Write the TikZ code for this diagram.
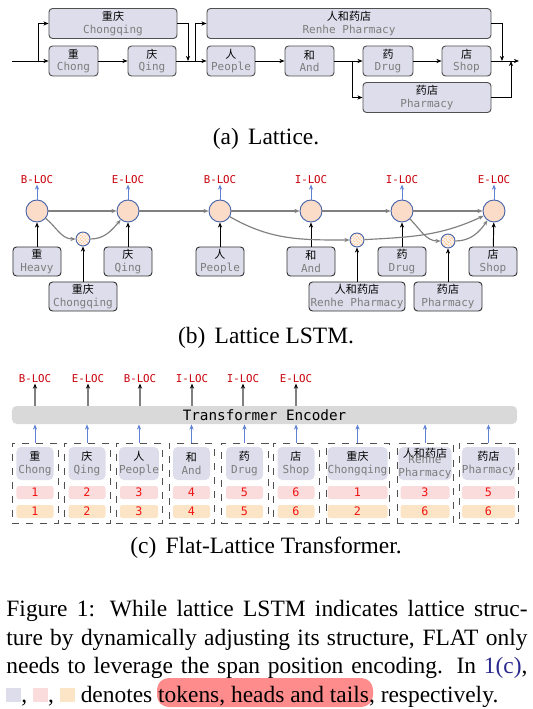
\documentclass[tikz,border=0pt]{standalone}
\usepackage{fontspec}
\setmainfont{Liberation Serif}
\setmonofont{DejaVu Sans Mono}
\newfontfamily\cjk{Noto Sans CJK SC}
\usepackage{tikz}
\usetikzlibrary{arrows.meta,patterns.meta,calc}
\definecolor{myboxfill}{RGB}{221,221,235}
\definecolor{myborder}{RGB}{80,80,80}
\definecolor{myengray}{RGB}{125,125,125}
\definecolor{mypeach}{RGB}{251,220,200}
\definecolor{mycellblue}{RGB}{70,100,170}
\definecolor{myarrowblue}{RGB}{95,130,210}
\definecolor{mytagred}{RGB}{200,0,10}
\definecolor{mynumred}{RGB}{240,20,20}
\definecolor{myheadpink}{RGB}{250,220,220}
\definecolor{mytailorange}{RGB}{251,229,198}
\definecolor{myencgray}{RGB}{217,217,217}
\definecolor{mylinkblue}{RGB}{40,40,140}
\definecolor{myhilite}{RGB}{255,140,140}
\newcommand{\wordfont}{\fontsize{4.7}{5.3}\selectfont\ttfamily}
\newcommand{\zh}[1]{{\cjk #1}}
\newcommand{\en}[1]{{\color{myengray}#1}}
\tikzstyle{wordbox}=[draw=myborder,fill=myboxfill,rounded corners=1.5pt,align=center,inner sep=0pt,minimum height=0.45cm,font=\wordfont]
\tikzstyle{tag}=[text=mytagred,inner sep=0pt,font=\fontsize{4.6}{5}\selectfont\ttfamily]
\tikzstyle{cell}=[draw=mycellblue,fill=mypeach,circle,minimum size=0.33cm,inner sep=0pt]
\tikzstyle{wordcell}=[draw=mycellblue,circle,minimum size=0.21cm,inner sep=0pt,preaction={fill=mypeach!40},pattern={Lines[angle=45,distance=0.9pt,line width=0.35pt]},pattern color=orange!55]
\tikzstyle{tagarrow}=[->,myarrowblue,line width=0.4pt]
\tikzstyle{flow}=[->,gray,line width=0.5pt]
\tikzstyle{group}=[draw=myborder,dashed,minimum height=1.2cm,inner sep=0pt]
\tikzstyle{token}=[fill=myboxfill,rounded corners=2pt,align=center,inner sep=0pt,minimum height=0.495cm,font=\wordfont]
\tikzstyle{head}=[fill=myheadpink,rounded corners=1pt,text=mynumred,inner sep=0pt,minimum height=0.195cm,font=\fontsize{5}{5}\selectfont\ttfamily]
\tikzstyle{tail}=[fill=mytailorange,rounded corners=1pt,text=mynumred,inner sep=0pt,minimum height=0.195cm,font=\fontsize{5}{5}\selectfont\ttfamily]
\tikzstyle{subcap}=[inner sep=0pt,font=\fontsize{10}{12}\selectfont]
\tikzstyle{outarrow}=[->,gray,line width=0.6pt,arrows={-Stealth[length=2.2pt,width=1.8pt,black]}]

\begin{document}
\begin{tikzpicture}[x=0.015cm,y=-0.015cm,line width=0.4pt,>={Stealth[length=2.2pt,width=1.8pt]}]
\useasboundingbox (0,0) rectangle (532,709);
% (a) lattice
\draw (113,23.5) node [wordbox, minimum width=1.92cm] (aChongqing) {\zh{重庆}\\\en{Chongqing}};
\draw (73.5,61) node [wordbox, minimum width=0.735cm] (aChong) {\zh{重}\\\en{Chong}};
\draw (152,61) node [wordbox, minimum width=0.72cm] (aQing) {\zh{庆}\\\en{Qing}};
\draw (231,61) node [wordbox, minimum width=0.72cm] (aPeople) {\zh{人}\\\en{People}};
\draw (349,23.5) node [wordbox, minimum width=4.26cm] (aRenhe) {\zh{人和药店}\\\en{Renhe Pharmacy}};
\draw (309.5,61) node [wordbox, minimum width=0.735cm] (aAnd) {\zh{和}\\\en{And}};
\draw (388,61) node [wordbox, minimum width=0.75cm] (aDrug) {\zh{药}\\\en{Drug}};
\draw (466.5,61) node [wordbox, minimum width=0.735cm] (aShop) {\zh{店}\\\en{Shop}};
\draw (427,97.5) node [wordbox, minimum width=1.92cm] (aPharmacy) {\zh{药店}\\\en{Pharmacy}};
\coordinate (aStart) at (12,61);
\coordinate (aEnd) at (519,61);
\coordinate (ab1) at (38,61);
\coordinate (ab2) at (188,61);
\coordinate (ab3) at (195,61);
\coordinate (ab4) at (352,61);
\coordinate (ab5) at (502,61);
\coordinate (ab6) at (511,61);
\draw[->] (aStart) -- (aChong);
\draw[->] (ab1) |- (aChongqing);
\draw[->] (aChong) -- (aQing);
\draw[->] (aQing) -- (aPeople);
\draw[->] (aChongqing) -| (ab2);
\draw[->] (ab3) |- (aRenhe);
\draw[->] (aPeople) -- (aAnd);
\draw[->] (aAnd) -- (aDrug);
\draw[->] (ab4) |- (aPharmacy);
\draw[->] (aDrug) -- (aShop);
\draw[->] (aShop) -- (aEnd);
\draw[->] (aRenhe) -| (ab5);
\draw[->] (aPharmacy) -| (ab6);
\node [subcap] (capA) at (266,139) {(a)\hspace{4pt}Lattice.};

% (b) lattice lstm
\draw (37,180) node [tag] (bt1) {B-LOC};
\draw (128,180) node [tag] (bt2) {E-LOC};
\draw (220,180) node [tag] (bt3) {B-LOC};
\draw (311,180) node [tag] (bt4) {I-LOC};
\draw (402,180) node [tag] (bt5) {I-LOC};
\draw (494,180) node [tag] (bt6) {E-LOC};
\draw (37,211) node [cell] (bh1) {};
\draw (128,211) node [cell] (bh2) {};
\draw (220,211) node [cell] (bh3) {};
\draw (311,211) node [cell] (bh4) {};
\draw (402,211) node [cell] (bh5) {};
\draw (494,211) node [cell] (bh6) {};
\draw (83,239) node [wordcell] (bc1) {};
\draw (357,240) node [wordcell] (bc2) {};
\draw (448,241) node [wordcell] (bc3) {};
\draw (37,261.5) node [wordbox, draw=black!80, minimum width=0.72cm, minimum height=0.435cm] (bHeavy) {\zh{重}\\\en{Heavy}};
\draw (128,261.5) node [wordbox, draw=black!80, minimum width=0.72cm, minimum height=0.435cm] (bQing) {\zh{庆}\\\en{Qing}};
\draw (220,261.5) node [wordbox, draw=black!80, minimum width=0.72cm, minimum height=0.435cm] (bPeople) {\zh{人}\\\en{People}};
\draw (311,261.5) node [wordbox, draw=black!80, minimum width=0.72cm, minimum height=0.435cm] (bAnd) {\zh{和}\\\en{And}};
\draw (402,261.5) node [wordbox, draw=black!80, minimum width=0.72cm, minimum height=0.435cm] (bDrug) {\zh{药}\\\en{Drug}};
\draw (493,261.5) node [wordbox, draw=black!80, minimum width=0.72cm, minimum height=0.435cm] (bShop) {\zh{店}\\\en{Shop}};
\draw (83,296.5) node [wordbox, draw=black!80, minimum width=1.02cm, minimum height=0.435cm] (bChongqing) {\zh{重庆}\\\en{Chongqing}};
\draw (357,296.5) node [wordbox, draw=black!80, minimum width=1.44cm, minimum height=0.435cm] (bRenhe) {\zh{人和药店}\\\en{Renhe Pharmacy}};
\draw (448,296.5) node [wordbox, draw=black!80, minimum width=1.02cm, minimum height=0.435cm] (bPharmacy) {\zh{药店}\\\en{Pharmacy}};
\draw[tagarrow] (bh1) -- (bt1);
\draw[tagarrow] (bh2) -- (bt2);
\draw[tagarrow] (bh3) -- (bt3);
\draw[tagarrow] (bh4) -- (bt4);
\draw[tagarrow] (bh5) -- (bt5);
\draw[tagarrow] (bh6) -- (bt6);
\draw[->] (bHeavy) -- (bh1);
\draw[->] (bQing) -- (bh2);
\draw[->] (bPeople) -- (bh3);
\draw[->] (bAnd) -- (bh4);
\draw[->] (bDrug) -- (bh5);
\draw[->] (bShop) -- (bh6);
\draw[->] (bChongqing) -- (bc1);
\draw[->] (bRenhe) -- (bc2);
\draw[->] (bPharmacy) -- (bc3);
\draw[flow] (bh1) -- (bh2);
\draw[flow] (bh2) -- (bh3);
\draw[flow] (bh3) -- (bh4);
\draw[flow] (bh4) -- (bh5);
\draw[flow] (bh5) -- (bh6);
\draw[flow] (bh1) to[out=-40,in=180] (bc1);
\draw[flow] (bc1) to[out=0,in=-130] (bh2);
\draw[flow] (bh3) to[out=-30,in=180] (bc2);
\draw[flow] (bc2) to[out=3,in=-155] (bh6);
\draw[flow] (bh5) to[out=-45,in=180] (bc3);
\draw[flow] (bc3) to[out=0,in=-125] (bh6);
\node [subcap] (capB) at (266,338) {(b)\hspace{4pt}Lattice LSTM.};

% (c) flat-lattice transformer
\draw (35,379) node [tag] (ct1) {B-LOC};
\draw (88,379) node [tag] (ct2) {E-LOC};
\draw (140,379) node [tag] (ct3) {B-LOC};
\draw (192,379) node [tag] (ct4) {I-LOC};
\draw (243,379) node [tag] (ct5) {I-LOC};
\draw (296,379) node [tag] (ct6) {E-LOC};
\draw (264.5,415) node [fill=myencgray, rounded corners=2pt, minimum width=7.575cm, minimum height=0.27cm, inner sep=0pt, font=\fontsize{6.1}{6.1}\selectfont\ttfamily] (enc) {Transformer Encoder};
\draw[outarrow] (enc.north -| ct1) -- (ct1);
\draw[outarrow] (enc.north -| ct2) -- (ct2);
\draw[outarrow] (enc.north -| ct3) -- (ct3);
\draw[outarrow] (enc.north -| ct4) -- (ct4);
\draw[outarrow] (enc.north -| ct5) -- (ct5);
\draw[outarrow] (enc.north -| ct6) -- (ct6);
\draw (35,483) node [group, minimum width=0.69cm] (g1) {};
\draw (87,483) node [group, minimum width=0.69cm] (g2) {};
\draw (139,483) node [group, minimum width=0.69cm] (g3) {};
\draw (191.5,483) node [group, minimum width=0.675cm] (g4) {};
\draw (244.5,483) node [group, minimum width=0.705cm] (g5) {};
\draw (296,483) node [group, minimum width=0.69cm] (g6) {};
\draw (357.5,483) node [group, minimum width=0.945cm] (g7) {};
\draw (425,483) node [group, minimum width=0.84cm] (g8) {};
\draw (488.5,483) node [group, minimum width=0.885cm] (g9) {};
\draw (35,463.5) node [token, minimum width=0.555cm] (k1) {\zh{重}\\\en{Chong}};
\draw (87,463.5) node [token, minimum width=0.555cm] (k2) {\zh{庆}\\\en{Qing}};
\draw (139,463.5) node [token, minimum width=0.57cm] (k3) {\zh{人}\\\en{People}};
\draw (191.5,463.5) node [token, minimum width=0.555cm] (k4) {\zh{和}\\\en{And}};
\draw (244.5,463.5) node [token, minimum width=0.555cm] (k5) {\zh{药}\\\en{Drug}};
\draw (296,463.5) node [token, minimum width=0.555cm] (k6) {\zh{店}\\\en{Shop}};
\draw (357.5,463.5) node [token, minimum width=0.9cm] (k7) {\zh{重庆}\\\en{Chongqing}};
\draw (425,463.5) node [token, minimum width=0.735cm] (k8) {\zh{人和药店}\\[-2.6pt]\en{Renhe}\\\en{Pharmacy}};
\draw (488.5,463.5) node [token, minimum width=0.795cm] (k9) {\zh{药店}\\\en{Pharmacy}};
\draw (35,492.5) node [head, minimum width=0.555cm] (hd1) {1};
\draw (87,492.5) node [head, minimum width=0.555cm] (hd2) {2};
\draw (139,492.5) node [head, minimum width=0.57cm] (hd3) {3};
\draw (191.5,492.5) node [head, minimum width=0.555cm] (hd4) {4};
\draw (244.5,492.5) node [head, minimum width=0.555cm] (hd5) {5};
\draw (296,492.5) node [head, minimum width=0.555cm] (hd6) {6};
\draw (357.5,492.5) node [head, minimum width=0.9cm] (hd7) {1};
\draw (425,492.5) node [head, minimum width=0.735cm] (hd8) {3};
\draw (488.5,492.5) node [head, minimum width=0.795cm] (hd9) {5};
\draw (35,511.5) node [tail, minimum width=0.555cm] (tl1) {1};
\draw (87,511.5) node [tail, minimum width=0.555cm] (tl2) {2};
\draw (139,511.5) node [tail, minimum width=0.57cm] (tl3) {3};
\draw (191.5,511.5) node [tail, minimum width=0.555cm] (tl4) {4};
\draw (244.5,511.5) node [tail, minimum width=0.555cm] (tl5) {5};
\draw (296,511.5) node [tail, minimum width=0.555cm] (tl6) {6};
\draw (357.5,511.5) node [tail, minimum width=0.9cm] (tl7) {2};
\draw (425,511.5) node [tail, minimum width=0.735cm] (tl8) {6};
\draw (488.5,511.5) node [tail, minimum width=0.795cm] (tl9) {6};
\draw[tagarrow] (g1) -- (g1 |- enc.south);
\draw[tagarrow] (g2) -- (g2 |- enc.south);
\draw[tagarrow] (g3) -- (g3 |- enc.south);
\draw[tagarrow] (g4) -- (g4 |- enc.south);
\draw[tagarrow] (g5) -- (g5 |- enc.south);
\draw[tagarrow] (g6) -- (g6 |- enc.south);
\draw[tagarrow] (g7) -- (g7 |- enc.south);
\draw[tagarrow] (g8) -- (g8 |- enc.south);
\draw[tagarrow] (g9) -- (g9 |- enc.south);
\node [subcap] (capC) at (266,548) {(c)\hspace{4pt}Flat-Lattice Transformer.};

% figure caption
\fill[myhilite, rounded corners=5pt] (157,678) rectangle (373,707);
\node [anchor=north west, inner sep=0pt, text width=7.815cm, align=justify, font=\fontsize{10}{12.2}\selectfont] (figcap) at (6,600)
  {Figure 1: While lattice LSTM indicates lattice struc-\linebreak
   ture by dynamically adjusting its structure, FLAT only\linebreak
   needs to leverage the span position encoding. In \textcolor{mylinkblue}{1(c)},\linebreak
   \textcolor{myboxfill}{\rule{0.225cm}{0.21cm}}, \textcolor{myheadpink}{\rule{0.225cm}{0.21cm}}, \textcolor{mytailorange}{\rule{0.225cm}{0.21cm}} denotes tokens, heads and tails, respectively.};
\end{tikzpicture}
\end{document}
